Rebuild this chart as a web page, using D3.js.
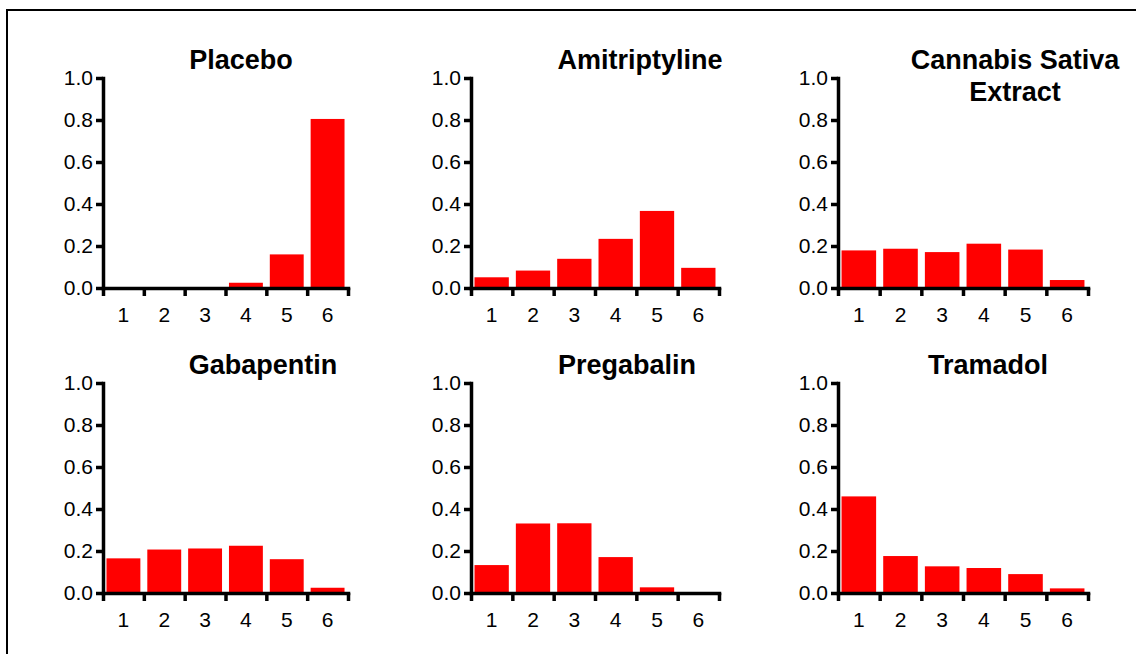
<!DOCTYPE html>
<html>
<head>
<meta charset="utf-8">
<script src="https://cdn.jsdelivr.net/npm/d3@7"></script>
<style>
  body { margin: 0; background: #fff; }
  text { font-family: "Liberation Sans", Arial, sans-serif; fill: #000; }
</style>
</head>
<body>
<script>
// data
var categories = [1, 2, 3, 4, 5, 6];
var titles = [["Placebo"], ["Amitriptyline"], ["Cannabis Sativa", "Extract"],
              ["Gabapentin"], ["Pregabalin"], ["Tramadol"]];
var placebo       = [0, 0, 0, 0.025, 0.16, 0.805];
var amitriptyline = [0.051, 0.083, 0.139, 0.234, 0.367, 0.096];
var cannabis      = [0.179, 0.187, 0.171, 0.211, 0.183, 0.038];
var gabapentin    = [0.165, 0.207, 0.212, 0.225, 0.161, 0.025];
var pregabalin    = [0.133, 0.331, 0.332, 0.171, 0.027, 0];
var tramadol      = [0.46, 0.176, 0.127, 0.119, 0.09, 0.022];
var yTicks = [0, 0.2, 0.4, 0.6, 0.8, 1.0];

var series = [placebo, amitriptyline, cannabis, gabapentin, pregabalin, tramadol];

// layout
var W = 1136, H = 654;
var colX = [103, 471, 838],
    colW = [245, 248, 250],
    rowY = [78, 383],
    plotH = 210;
var titleCx = [138, 169, 177, 160, 156, 150];

var svg = d3.select("body").append("svg")
  .attr("width", W)
  .attr("height", H);

// outer frame (right and bottom edges fall off the picture)
svg.append("rect")
  .attr("x", 7).attr("y", 10)
  .attr("width", W + 20).attr("height", H + 20)
  .attr("fill", "none")
  .attr("stroke", "#000")
  .attr("stroke-width", 2);

series.forEach(function(vals, i){
  var col = i % 3, row = Math.floor(i / 3);
  var w = colW[col];
  var g = svg.append("g")
    .attr("transform", "translate(" + colX[col] + "," + rowY[row] + ")");

  var y = d3.scaleLinear().domain([0, 1]).range([plotH, 0]);
  var xb = d3.scaleBand().domain(categories).range([0, w])
    .paddingInner(0.17).paddingOuter(0.085);
  var xl = d3.scaleLinear().domain([0, categories.length]).range([0, w]);

  g.selectAll("rect.bar")
    .data(vals)
    .enter().append("rect")
    .attr("class", "bar")
    .attr("x", function(d, j){ return xb(categories[j]); })
    .attr("width", xb.bandwidth())
    .attr("y", function(d){ return y(d); })
    .attr("height", function(d){ return y(0) - y(d); })
    .attr("fill", "#ff0000");

  // y axis
  var ya = g.append("g")
    .call(d3.axisLeft(y).tickValues(yTicks).tickFormat(d3.format(".1f"))
      .tickSize(7).tickSizeOuter(0).tickPadding(3));

  // x axis: ticks at bin edges
  var xa = g.append("g")
    .attr("transform", "translate(0," + plotH + ")")
    .call(d3.axisBottom(xl).tickValues(d3.range(0, categories.length + 1))
      .tickFormat("").tickSize(8).tickSizeOuter(0));

  // x labels at bin centres
  var xt = g.append("g")
    .attr("transform", "translate(0," + plotH + ")")
    .call(d3.axisBottom(xb).tickSize(0).tickPadding(19));
  xt.select(".domain").remove();

  [ya, xa].forEach(function(a){
    a.select(".domain").attr("stroke", "#000").attr("stroke-width", 3.5)
      .attr("stroke-linecap", "square");
    a.selectAll(".tick line").attr("stroke", "#000").attr("stroke-width", 3.5);
  });
  g.selectAll(".tick text")
    .style("font-family", "'Liberation Sans', Arial, sans-serif")
    .style("font-size", "21px")
    .attr("fill", "#000");

  // panel title
  var t = g.append("text")
    .attr("x", titleCx[i])
    .attr("y", -9)
    .attr("text-anchor", "middle")
    .style("font-size", "27px")
    .style("font-weight", "bold");
  titles[i].forEach(function(line, k){
    t.append("tspan")
      .attr("x", titleCx[i])
      .attr("dy", k === 0 ? 0 : 32)
      .text(line);
  });
});
</script>
</body>
</html>
